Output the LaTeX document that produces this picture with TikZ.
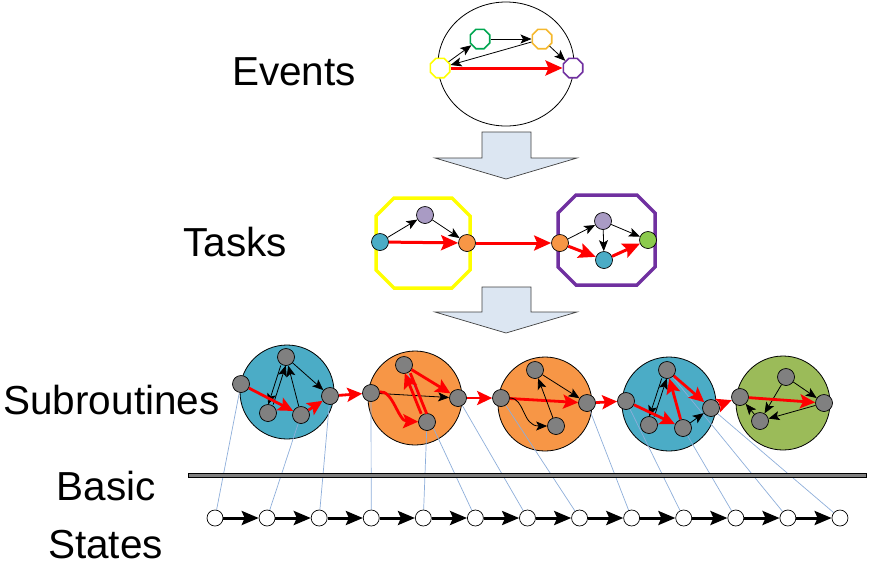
\documentclass[tikz,border=0pt]{standalone}
\usepackage{fontspec}
\setmainfont{Liberation Sans}
\usetikzlibrary{arrows.meta,shapes.geometric}
\definecolor{aqua}{HTML}{4BACC6}
\definecolor{orng}{HTML}{F79646}
\definecolor{olive}{HTML}{9BBB59}
\definecolor{nodegray}{HTML}{808080}
\definecolor{lav}{HTML}{A99BC4}
\definecolor{tgreen}{HTML}{8CCB4E}
\definecolor{mapblue}{HTML}{8EAEDA}
\definecolor{arrowfill}{HTML}{DCE6F2}
\definecolor{evyellow}{HTML}{FFFF00}
\definecolor{evgreen}{HTML}{00A650}
\definecolor{evgold}{HTML}{F5B82E}
\definecolor{evpurple}{HTML}{7030A0}
\pgfdeclarelayer{bg}
\pgfdeclarelayer{mid}
\pgfsetlayers{bg,mid,main}
\begin{document}
\begin{tikzpicture}[x=1pt,y=-1pt,
  lbl/.style={font=\fontsize{40.5}{48}\selectfont, anchor=base, inner sep=0pt},
  evn/.style={regular polygon, regular polygon sides=8, minimum size=21pt, inner sep=0pt, line width=1.6pt, fill=white},
  big/.style={circle, draw=black, line width=0.8pt, minimum size=94pt, inner sep=0pt},
  gn/.style={circle, draw=black, fill=nodegray, minimum size=17pt, inner sep=0pt, line width=0.7pt},
  tn/.style={circle, draw=black, minimum size=17pt, inner sep=0pt, line width=0.7pt},
  bsn/.style={circle, draw=black, fill=white, minimum size=16pt, inner sep=0pt, line width=0.7pt},
  bl/.style={draw=black, line width=0.8pt, -{Stealth[length=11pt,width=9pt,inset=2.5pt]}},
  rd/.style={draw=red, line width=2.8pt, -{Stealth[length=15pt,width=14pt,inset=3pt]}},
  rdbig/.style={draw=red, line width=3pt, -{Stealth[length=17pt,width=15pt,inset=3pt]}},
  mapline/.style={draw=mapblue, line width=0.7pt},
  blockarrow/.style={draw=black!75, fill=arrowfill, line width=0.7pt},
  bsarrow/.style={draw=black, line width=3pt, -{Stealth[length=17pt,width=14pt,inset=3pt]}}
]
\useasboundingbox (0,0) rectangle (869,566);

% ---------- labels ----------
\node[lbl] (events) at (294,85) {Events};
\node[lbl] (tasks) at (235,256) {Tasks};
\node[lbl] (subr) at (111.5,414) {Subroutines};
\node[lbl] (basic) at (106.5,500) {Basic};
\node[lbl] (states) at (105.5,558) {States};

% ---------- events ----------
\node[ellipse, draw=black, line width=0.8pt, minimum width=136pt, minimum height=124pt, inner sep=0pt] (evell) at (506,64) {};
\node[evn, draw=evyellow] (ey) at (440,68) {};
\node[evn, draw=evgreen] (eg) at (480,39) {};
\node[evn, draw=evgold] (eo) at (542,39) {};
\node[evn, draw=evpurple] (ep) at (573,68) {};
\draw[bl] (ey) -- (eg);
\draw[bl] (eg) -- (eo);
\draw[bl] (eo) -- (ey);
\draw[bl] (eo) -- (ep);
\draw[rdbig] (ey) -- (ep);

% ---------- block arrows ----------
\draw[blockarrow] (482,132) -- (531,132) -- (531,158) -- (577,158) -- (506,179) -- (435,158) -- (482,158) -- cycle;
\draw[blockarrow] (482,287) -- (531,287) -- (531,312) -- (577,312) -- (506,333) -- (435,312) -- (482,312) -- cycle;

% ---------- tasks ----------
\draw[evyellow, line width=3.5pt] (394,198) -- (452,198) -- (470,216) -- (470,270) -- (452,288) -- (394,288) -- (376,270) -- (376,216) -- cycle;
\draw[evpurple, line width=3.5pt] (576,195) -- (637,195) -- (655,213) -- (655,267) -- (637,285) -- (576,285) -- (558,267) -- (558,213) -- cycle;
\node[tn, fill=aqua] (tb1) at (380,242) {};
\node[tn, fill=lav] (tl1) at (425,215) {};
\node[tn, fill=orng] (to1) at (467,243) {};
\node[tn, fill=orng] (to2) at (560,243) {};
\node[tn, fill=lav] (tl2) at (603,221) {};
\node[tn, fill=aqua] (tb2) at (604,260) {};
\node[tn, fill=tgreen] (tg2) at (648,240) {};
\draw[bl] (tb1) -- (tl1);
\draw[bl] (tl1) -- (to1);
\draw[rdbig] (tb1) -- (to1);
\draw[rdbig] (to1) -- (to2);
\draw[bl] (to2) -- (tl2);
\draw[bl] (tl2) -- (tb2);
\draw[bl] (tl2) -- (tg2);
\draw[rdbig] (to2) -- (tb2);
\draw[rdbig] (tb2) -- (tg2);

% ---------- subroutines: big circles ----------
\begin{pgfonlayer}{bg}
\node[big, fill=aqua] (c1) at (287,392) {};
\node[big, fill=orng] (c2) at (415,398) {};
\node[big, fill=orng] (c3) at (545,404) {};
\node[big, fill=aqua] (c4) at (669,404) {};
\node[big, fill=olive] (c5) at (783,403) {};
\end{pgfonlayer}

% circle 1
\node[gn] (t1) at (286,357) {};
\node[gn] (l1) at (241,384) {};
\node[gn] (bl1) at (268,413) {};
\node[gn] (bm1) at (301,415) {};
\node[gn] (r1) at (330,396) {};
% circle 2
\node[gn] (t2) at (404,365) {};
\node[gn] (l2) at (371,393) {};
\node[gn] (b2) at (427,422) {};
\node[gn] (r2) at (458,398) {};
% circle 3
\node[gn] (t3) at (535,370) {};
\node[gn] (l3) at (501,398) {};
\node[gn] (b3) at (556,426) {};
\node[gn] (r3) at (587,403) {};
% circle 4
\node[gn] (t4) at (667,370) {};
\node[gn] (l4) at (626,401) {};
\node[gn] (bl4) at (649,425) {};
\node[gn] (bm4) at (683,428) {};
\node[gn] (r4) at (711,408) {};
% circle 5
\node[gn] (t5) at (786,377) {};
\node[gn] (l5) at (740,397) {};
\node[gn] (b5) at (760,421) {};
\node[gn] (r5) at (824,403) {};

% circle 1 edges
\draw[bl, transform canvas={xshift=-2.5pt}] (t1) -- (bl1);
\draw[bl, transform canvas={xshift=2.5pt}] (bl1) -- (t1);
\draw[bl] (bm1) -- (t1);
\draw[bl] (t1) -- (r1);
\draw[rd] (l1) -- (bm1);
\draw[rd] (bm1) -- (r1);
% circle 2 edges
\draw[bl] (l2) -- (r2);
\draw[rd] (l2) .. controls (393,390) and (398,421) .. (b2);
\draw[rd, transform canvas={xshift=-2.5pt}] (b2) -- (t2);
\draw[draw=red, line width=2.8pt, transform canvas={xshift=3pt}] (t2) -- (b2);
\draw[rd] (t2) -- (r2);
% circle 3 edges
\draw[rd] (l3) -- (r3);
\draw[bl] (t3) -- (r3);
\draw[bl] (b3) -- (t3);
\draw[bl] (l3) .. controls (525,398) and (522,426) .. (b3);
% circle 4 edges
\draw[bl, transform canvas={xshift=-2.5pt}] (t4) -- (bl4);
\draw[bl, transform canvas={xshift=2.5pt}] (bl4) -- (t4);
\draw[bl] (bm4) -- (r4);
\draw[rd] (l4) -- (bm4);
\draw[rd] (bm4) -- (t4);
\draw[rd] (t4) -- (r4);
% circle 5 edges
\draw[bl] (t5) -- (r5);
\draw[bl] (r5) -- (b5);
\draw[bl] (t5) -- (b5);
\draw[bl] (b5) -- (l5);
\draw[rd] (l5) -- (r5);
% between circles
\draw[rd] (r1) -- (l2);
\draw[rd] (r2) -- (l3);
\draw[rd] (r3) -- (l4);
\draw[rd] (r4) -- (l5);

% ---------- basic states ----------
\foreach \i in {1,...,13} {
  \node[bsn] (s\i) at ({215+52.08*(\i-1)},518) {};
}
\foreach \i [evaluate=\i as \j using int(\i+1)] in {1,...,12} {
  \draw[bsarrow] (s\i) -- (s\j);
}

% ---------- mapping lines ----------
\begin{pgfonlayer}{mid}
\draw[mapline] (l1) -- (s1);
\draw[mapline] (bm1) -- (s2);
\draw[mapline] (r1) -- (s3);
\draw[mapline] (l2) -- (s4);
\draw[mapline] (b2) -- (s5);
\draw[mapline] (t2) -- (s6);
\draw[mapline] (r2) -- (s7);
\draw[mapline] (l3) -- (s8);
\draw[mapline] (r3) -- (s9);
\draw[mapline] (l4) -- (s10);
\draw[mapline] (bm4) -- (s11);
\draw[mapline] (t4) -- (s12);
\draw[mapline] (r4) -- (s13);
\end{pgfonlayer}

% ---------- separator bar ----------
\draw[fill=nodegray, draw=black, line width=0.6pt] (188,473) rectangle (866,477.5);

\end{tikzpicture}
\end{document}
